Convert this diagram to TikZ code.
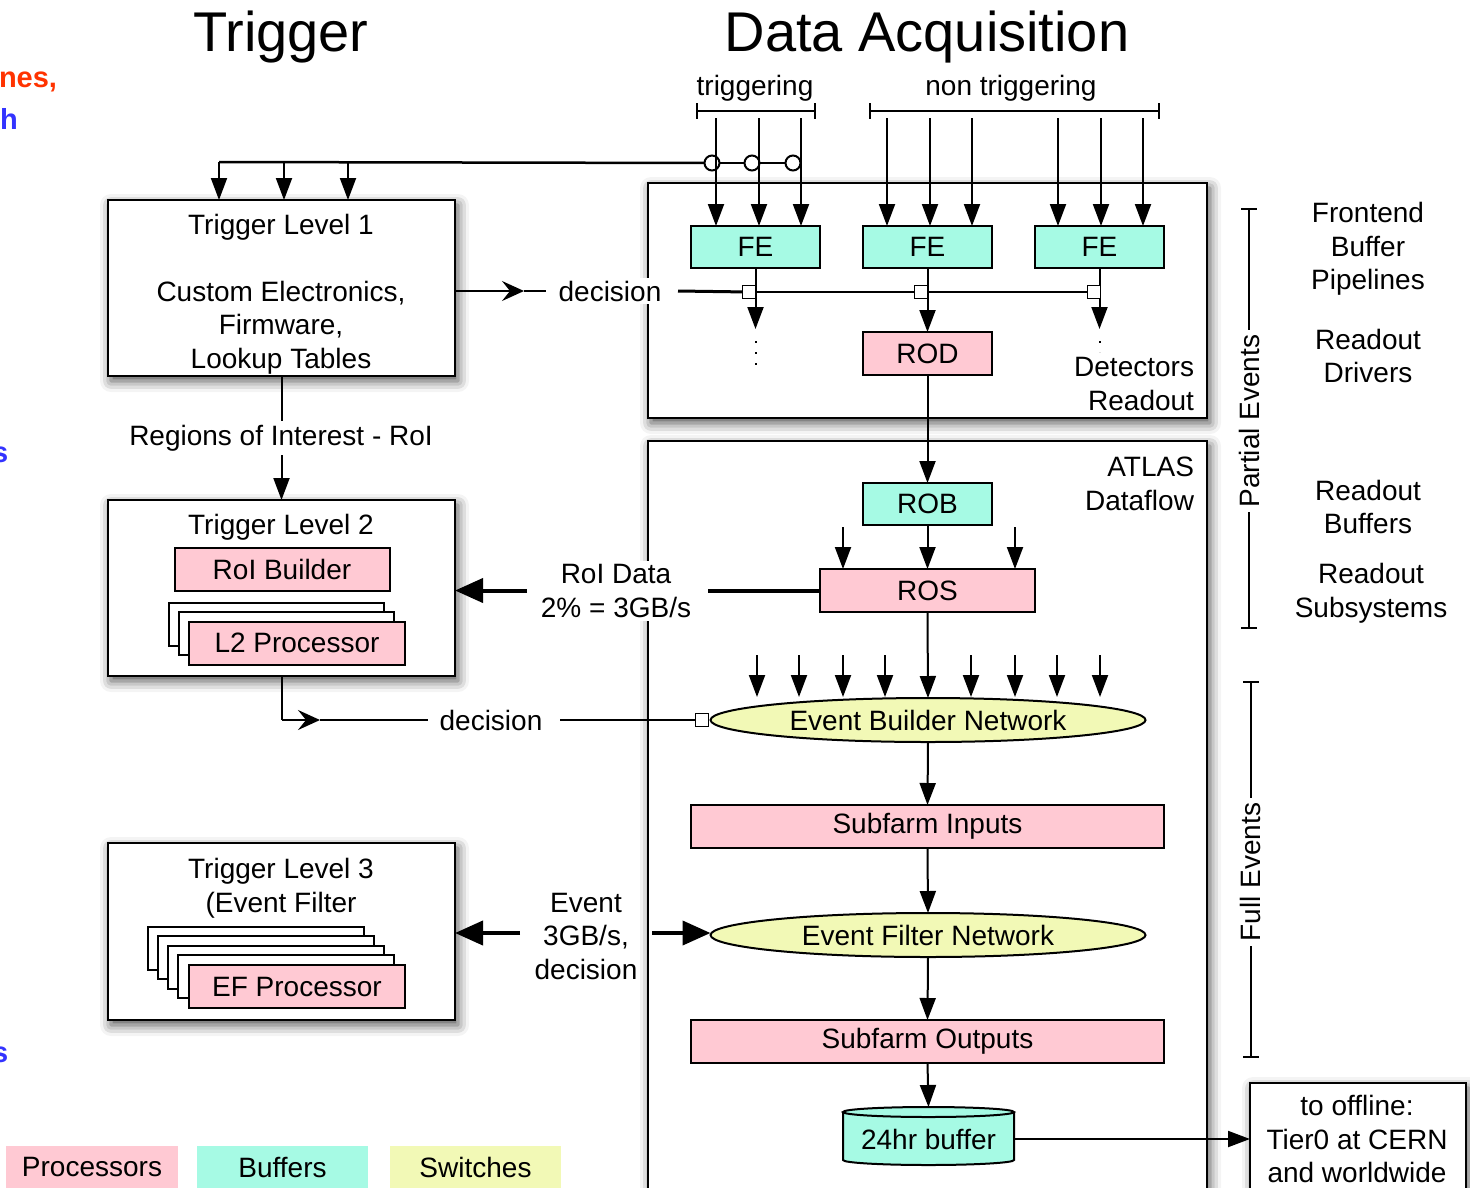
\documentclass[tikz,border=0pt]{standalone}
\usepackage{fontspec}
\setmainfont{Liberation Sans}
\usetikzlibrary{arrows.meta,shapes.geometric,shadows.blur,calc}
\definecolor{procpink}{RGB}{255,201,211}
\definecolor{bufcyan}{RGB}{166,250,228}
\definecolor{swyellow}{RGB}{242,249,182}
\definecolor{redtxt}{RGB}{255,51,0}
\definecolor{bluetxt}{RGB}{51,51,255}
\begin{document}
\begin{tikzpicture}[x=1pt,y=-1pt,
  every node/.style={font=\fontsize{28}{33.5}\selectfont, inner sep=0pt, outer sep=0pt},
  ln/.style={line width=2pt},
  arr/.style={line width=2pt, -{Triangle[length=22pt,width=16pt]}},
  tharr/.style={line width=4pt, -{Triangle[length=28pt,width=24pt]}},
  midarr/.style={line width=2pt, -{Stealth[length=22pt,width=20pt,inset=8pt]}},
  bigbox/.style={draw, line width=2.5pt, fill=white, blur shadow={shadow xshift=3pt,shadow yshift=-5pt,shadow blur radius=11pt,shadow opacity=70}},
  pbox/.style={draw, line width=2pt, fill=procpink, minimum height=43pt},
  bbox/.style={draw, line width=2pt, fill=bufcyan, minimum height=42pt},
  wbox/.style={draw, line width=2pt, fill=white, minimum height=43pt},
  sw/.style={ellipse, draw, line width=2pt, fill=swyellow, minimum width=435pt, minimum height=44pt},
  sq/.style={draw, line width=1.5pt, fill=white, minimum size=13pt},
  ring/.style={circle, draw, line width=2pt, fill=white, minimum size=15pt},
  lbl/.style={align=center},
  wlbl/.style={align=center, fill=white, inner sep=3pt},
  cut/.style={anchor=west, font=\fontsize{29}{30}\selectfont\bfseries},
]
\useasboundingbox (0,0) rectangle (1470,1187);

% cut-off words at the left edge
\node[cut, text=redtxt] (cut1) at (-1,82) {nes,};
\node[cut, text=bluetxt] (cut2) at (0,119) {h};
\node[cut, text=bluetxt] (cut3) at (-8,455) {s};
\node[cut, text=bluetxt] (cut4) at (-8,1055) {s};

% titles
\node (ttrig) at (281,37) {\fontsize{56}{60}\selectfont Trigger};
\node (tdaq) at (927,37) {\fontsize{56}{60}\selectfont Data Acquisition};

% big boxes
\node[bigbox, minimum width=559pt, minimum height=235pt] (daqr) at (927.5,300.5) {};
\node[bigbox, minimum width=559pt, minimum height=770pt] (flow) at (927.5,826) {};
\node[bigbox, minimum width=347pt, minimum height=176pt] (tl1) at (281.5,288) {};
\node[bigbox, minimum width=347pt, minimum height=176pt] (tl2) at (281.5,588) {};
\node[bigbox, minimum width=347pt, minimum height=177pt] (tl3) at (281.5,931.5) {};
\node[bigbox, line width=2pt, minimum width=216pt, minimum height=120pt] (off) at (1358,1143) {};

% brackets at the top
\node (trg) at (755,88) {triggering};
\node (ntrg) at (1011,88) {non triggering};
\draw[ln] (697,103) -- (697,119) (697,111) -- (815,111) (815,103) -- (815,119);
\draw[ln] (870,103) -- (870,119) (870,111) -- (1159,111) (1159,103) -- (1159,119);

% FE boxes
\node[bbox, minimum width=129pt] (fe1) at (755.5,247) {FE};
\node[bbox, minimum width=129pt] (fe2) at (927.5,247) {FE};
\node[bbox, minimum width=129pt] (fe3) at (1099.5,247) {FE};

% trigger line to level 1
\coordinate (t1a) at (219,162);
\coordinate (t1b) at (284,162);
\coordinate (t1c) at (348,162);
\coordinate (r1) at (712,163);
\coordinate (r2) at (752,163);
\coordinate (r3) at (793,163);
\draw[line width=2.5pt] (t1a) -- (r1);
\draw[line width=1.5pt] (r1) -- (r3);
\node[ring] (ring1) at (r1) {};
\node[ring] (ring2) at (r2) {};
\node[ring] (ring3) at (r3) {};
\foreach \c in {t1a,t1b,t1c} \draw[arr] (\c) -- (\c |- tl1.north);
\foreach \x in {716,759,801,887,930,972,1058,1101,1143} {
  \coordinate (top\x) at (\x,118);
  \draw[arr] (top\x) -- (top\x |- fe1.north);
}

% level 1 text
\node[lbl] (tl1t) at (281,294) {Trigger Level 1\\[33.5pt]Custom Electronics,\\Firmware,\\Lookup Tables};

% decision 1
\node[wlbl] (dec1) at (610,291) {decision};
\coordinate (d1m) at (524,291);
\coordinate (d1e) at (546,291);
\coordinate (d1s) at (678,291);
\draw[midarr] (tl1.east |- dec1) -- (d1m);
\draw[ln] (d1m) -- (d1e);
\coordinate (s1) at (749,292);
\coordinate (s2) at (921,292);
\coordinate (s3) at (1094,292);
\draw[line width=3pt] (d1s) -- (s1);
\draw[ln] (s1) -- (s3);

% ROD
\node[pbox, minimum width=129pt] (rod) at (927.5,353.5) {ROD};
\coordinate (fe1e) at (755.5,329);
\coordinate (fe3e) at (1099.5,329);
\draw[arr] (fe1.south) -- (fe1e);
\draw[arr] (fe2.south) -- (rod.north);
\draw[arr] (fe3.south) -- (fe3e);
\node[sq] (sq1) at (s1) {};
\node[sq] (sq2) at (s2) {};
\node[sq] (sq3) at (s3) {};
\coordinate (dt1a) at (755.5,341);
\coordinate (dt1b) at (755.5,373);
\coordinate (dt3a) at (1099.5,341);
\coordinate (dt3b) at (1099.5,352);
\draw[line width=2pt, dash pattern=on 2pt off 9pt] (dt1a) -- (dt1b);
\draw[line width=2pt, dash pattern=on 2pt off 9pt] (dt3a) -- (dt3b);
\node[lbl, align=right, anchor=east] (detr) at (1194,384) {Detectors\\Readout};

% dataflow
\node[lbl, align=right, anchor=east] (atl) at (1194,484) {ATLAS\\Dataflow};
\node[bbox, minimum width=129pt] (rob) at (927.5,504) {ROB};
\node[pbox, minimum width=215pt] (ros) at (927.5,590.5) {ROS};
\draw[arr] (rod.south) -- (rob.north);
\draw[arr] (rob.south) -- (ros.north);
\coordinate (ra) at (843,527);
\coordinate (rb) at (1015,527);
\draw[arr] (ra) -- (ra |- ros.north);
\draw[arr] (rb) -- (rb |- ros.north);

% level 2
\node (tl2t) at (281,527) {Trigger Level 2};
\node[pbox, minimum width=215pt] (roib) at (282,569) {RoI Builder};
\node[wbox, minimum width=215pt] (l2b1) at (276,624) {};
\node[wbox, minimum width=215pt] (l2b2) at (286,633.5) {};
\node[pbox, minimum width=216pt] (l2p) at (297,643) {L2 Processor};

% RoI line
\draw[arr] (tl1.south) -- (tl2.north);
\node[fill=white, inner sep=4pt] (roi) at (281,438) {Regions of Interest - RoI};

% RoI data
\node[wlbl] (roid) at (616,591) {RoI Data\\2\% = 3GB/s};
\coordinate (rd1) at (708,590.5);
\coordinate (rd2) at (527,590.5);
\draw[line width=4pt] (ros.west) -- (rd1);
\draw[tharr] (rd2) -- (tl2.east |- rd2);

% Event builder
\node[sw] (ebn) at (928,720) {Event Builder Network};
\draw[arr] (ros.south) -- (ebn.north);
\foreach \x in {757,799,843,885,971,1015,1057,1100} {
  \coordinate (eb\x) at (\x,655);
  \coordinate (ebt\x) at (\x,697);
  \draw[arr] (eb\x) -- (ebt\x);
}

% decision 2
\node (dec2) at (491,720) {decision};
\coordinate (d2c) at (281.5,720);
\coordinate (d2m) at (320,720);
\coordinate (d2e) at (428,720);
\coordinate (d2s) at (560,720);
\draw[ln] (tl2.south) -- (d2c);
\draw[midarr] (d2c) -- (d2m);
\draw[ln] (d2m) -- (d2e);
\node[sq] (sq4) at (702,720) {};
\draw[ln] (d2s) -- (sq4.west);

% subfarm
\node[pbox, minimum width=473pt] (sfi) at (927.5,826.5) {Subfarm Inputs};
\node[sw] (efn) at (928,935) {Event Filter Network};
\node[pbox, minimum width=473pt] (sfo) at (927.5,1041.5) {Subfarm Outputs};
\draw[arr] (ebn.south) -- (sfi.north);
\draw[arr] (sfi.south) -- (efn.north);
\draw[arr] (efn.south) -- (sfo.north);

% 24hr buffer (cylinder)
\fill[bufcyan] (843,1112) -- (843,1160) arc[start angle=180,end angle=0,x radius=85.5,y radius=5] -- (1014,1112) -- cycle;
\draw[line width=2pt] (843,1112) -- (843,1160) arc[start angle=180,end angle=0,x radius=85.5,y radius=5] -- (1014,1112);
\filldraw[fill=bufcyan, line width=2pt] (928.5,1112) ellipse[x radius=85.5, y radius=5];
\node[minimum width=171pt, minimum height=46pt] (buf) at (928.5,1139) {24hr buffer};
\coordinate (buftop) at (928.5,1107);
\draw[arr] (sfo.south) -- (buftop);
\draw[arr] (buf.east) -- (off.west |- buf.east);
\node[lbl] (offt) at (1357,1139) {to offline:\\Tier0 at CERN\\and worldwide};

% level 3
\node[lbl] (tl3t) at (281,888) {Trigger Level 3\\(Event Filter};
\node[wbox, minimum width=216pt] (efb1) at (256,948.5) {};
\node[wbox, minimum width=216pt] (efb2) at (266,957.5) {};
\node[wbox, minimum width=216pt] (efb3) at (276,967) {};
\node[wbox, minimum width=216pt] (efb4) at (285.5,976.5) {};
\node[pbox, minimum width=216pt] (efp) at (297,986.5) {EF Processor};

% event data
\node[lbl] (evt) at (586,936) {Event\\3GB/s,\\decision};
\coordinate (ev1) at (520,933);
\coordinate (ev2) at (652,933);
\draw[tharr] (ev1) -- (tl3.east |- ev1);
\draw[tharr] (ev2) -- (efn.west |- ev2);

% right brackets
\draw[ln] (1241,209) -- (1257,209) (1249,209) -- (1249,628) (1241,628) -- (1257,628);
\node[rotate=90, fill=white, inner sep=5pt] (pev) at (1249,421) {Partial Events};
\draw[ln] (1243,682) -- (1259,682) (1251,682) -- (1251,1057) (1243,1057) -- (1259,1057);
\node[rotate=90, fill=white, inner sep=5pt] (fev) at (1250,872) {Full Events};

% right labels
\node[lbl] (rl1) at (1368,249) {Frontend\\Buffer\\Pipelines};
\node[lbl] (rl2) at (1368,356) {Readout\\Drivers};
\node[lbl] (rl3) at (1368,507) {Readout\\Buffers};
\node[lbl] (rl4) at (1371,593) {Readout\\Subsystems};

% legend
\node[fill=procpink, minimum width=172pt, minimum height=42pt] (lp) at (92,1167) {Processors};
\node[fill=bufcyan, minimum width=171pt, minimum height=42pt] (lb) at (282.5,1167) {Buffers};
\node[fill=swyellow, minimum width=171pt, minimum height=42pt] (ls) at (475.5,1167) {Switches};
\end{tikzpicture}
\end{document}
